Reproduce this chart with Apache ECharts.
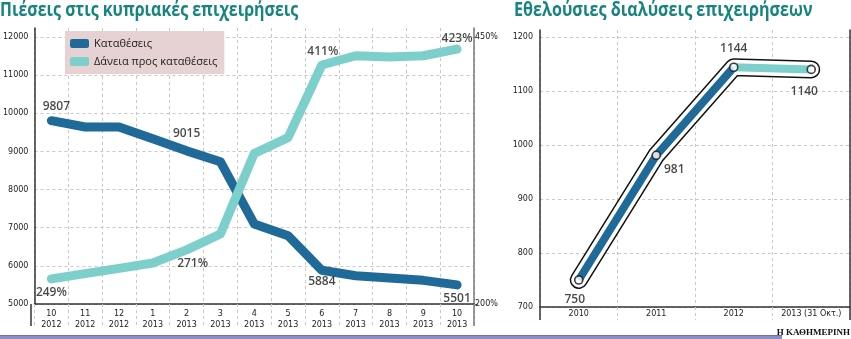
<!DOCTYPE html>
<html>
<head>
<meta charset="utf-8">
<script src="https://cdn.jsdelivr.net/npm/echarts@6/dist/echarts.min.js"></script>
<style>
  html, body { margin: 0; padding: 0; background: #fff; }
  #chart { width: 851px; height: 339px; }
</style>
</head>
<body>
<div id="chart"></div>
<script>
// Left panel: monthly deposits and loan-to-deposit ratio
const months = ['10\n2012', '11\n2012', '12\n2012', '1\n2013', '2\n2013', '3\n2013', '4\n2013',
                '5\n2013', '6\n2013', '7\n2013', '8\n2013', '9\n2013', '10\n2013'];
const deposits = [9807, 9640, 9640, 9330, 9015, 8730, 7100, 6790, 5884, 5740, 5680, 5620, 5501];
const loanRatio = [249, 253, 257, 261, 271, 283, 344, 356, 411, 418, 417, 418, 423];
const depositLabelIdx = [0, 4, 8, 12];
const ratioLabelIdx = [0, 4, 8, 12];
const ratioAxisTicks = [200, 450];

// Right panel: voluntary company dissolutions per year
const years = ['2010', '2011', '2012', '2013 (31 Οκτ.)'];
const dissolutions = [750, 981, 1144, 1140];

const DARK = '#1f6a98';
const TEAL = '#7ccfcb';
const TITLE = '#17857f';
const AXIS = '#333';
const GRID = '#c8c8c8';
const TICKFONT = { fontFamily: 'DejaVu Sans', fontSize: 8, color: '#222' };
const VALFONT = { fontFamily: 'Open Sans', fontSize: 12, fontWeight: 600, color: '#1a1a1a' };
const TITLEFONT = 'bold 19px "Open Sans"';

// grid geometry (pixels)
const L = { left: 31, right: 474, top: 28, bottom: 304 };
const R = { left: 540, right: 850, top: 30, bottom: 307 };

// label offsets for value annotations
const depOffsets = { 0: [5, -14], 4: [0, -17], 8: [0, 11], 12: [0, 14] };
const ratioOffsets = { 0: [0, 14], 4: [6, 14], 8: [1, -13], 12: [0, -11] };
const dissOffsets = [[-4, 20], [18, 14], [0, -19], [-7, 22]];

const chart = echarts.init(document.getElementById('chart'), null, { renderer: 'canvas' });

const dashed = { color: GRID, type: [3, 3], width: 1 };
const plain = v => String(v);

const option = {
  animation: false,
  legend: {
    left: 65, top: 31, orient: 'vertical', itemGap: 7, itemWidth: 19, itemHeight: 9,
    padding: [7, 7, 7, 5], backgroundColor: '#e7d2d3',
    icon: 'roundRect',
    textStyle: { fontFamily: 'Open Sans', fontSize: 11, color: '#1a1a1a' },
    data: ['Καταθέσεις', 'Δάνεια προς καταθέσεις']
  },
  grid: [
    { left: L.left, top: L.top, width: L.right - L.left, height: L.bottom - L.top },
    { left: R.left, top: R.top, width: R.right - R.left, height: R.bottom - R.top }
  ],
  xAxis: [
    { type: 'category', gridIndex: 0, data: months, boundaryGap: true,
      axisLine: { lineStyle: { color: AXIS, width: 1.5 } },
      axisTick: { show: true, length: 22, lineStyle: dashed },
      splitLine: { show: true, lineStyle: dashed },
      axisLabel: Object.assign({ margin: 4, lineHeight: 11, interval: 0 }, TICKFONT) },
    { type: 'category', gridIndex: 1, data: years, boundaryGap: true,
      axisLine: { lineStyle: { color: AXIS, width: 1.5 } },
      axisTick: { show: true, length: 13, lineStyle: dashed },
      splitLine: { show: true, lineStyle: dashed },
      axisLabel: Object.assign({ margin: 3, interval: 0 }, TICKFONT) }
  ],
  yAxis: [
    { type: 'value', gridIndex: 0, min: 5000, max: 12236, interval: 1000,
      axisLine: { show: true, lineStyle: { color: AXIS, width: 1.5 } },
      axisTick: { show: false },
      splitLine: { show: true, showMaxLine: false, lineStyle: dashed },
      axisLabel: Object.assign({ margin: 6, showMaxLabel: false, formatter: plain }, TICKFONT) },
    // percentage scale drawn at the right edge
    { type: 'value', gridIndex: 0, position: 'right', min: 200, max: 458.4, interval: 250,
      axisLine: { show: true, lineStyle: { color: '#777', width: 1.5 } },
      axisTick: { show: true, inside: false, length: 4, lineStyle: { color: '#777' } },
      splitLine: { show: false },
      axisLabel: Object.assign({ margin: 1, showMaxLabel: false,
        formatter: v => ratioAxisTicks.includes(v) ? v + '%' : '' }, TICKFONT) },
    // scale used by the ratio curve
    { type: 'value', gridIndex: 0, position: 'right', min: 230, max: 439, show: false,
      splitLine: { show: false } },
    { type: 'value', gridIndex: 1, min: 700, max: 1213, interval: 100,
      axisLine: { show: true, lineStyle: { color: AXIS, width: 1.5 } },
      axisTick: { show: false },
      splitLine: { show: true, showMaxLine: false, lineStyle: dashed },
      axisLabel: Object.assign({ margin: 7, showMaxLabel: false, formatter: plain }, TICKFONT) },
    { type: 'value', gridIndex: 1, position: 'right', min: 700, max: 1213,
      axisLine: { show: true, lineStyle: { color: AXIS, width: 1.5 } },
      axisTick: { show: false }, axisLabel: { show: false }, splitLine: { show: false } }
  ],
  series: [
    { name: 'Καταθέσεις', type: 'line', xAxisIndex: 0, yAxisIndex: 0, data: deposits,
      symbol: 'none', color: DARK, z: 3,
      lineStyle: { width: 9, color: DARK, cap: 'round', join: 'round' } },
    { name: 'Δάνεια προς καταθέσεις', type: 'line', xAxisIndex: 0, yAxisIndex: 2, data: loanRatio,
      symbol: 'none', color: TEAL, z: 4,
      lineStyle: { width: 9, color: TEAL, cap: 'round', join: 'round' } },
    { type: 'scatter', xAxisIndex: 0, yAxisIndex: 0, symbolSize: 0, z: 6, silent: true,
      data: depositLabelIdx.map(i => ({
        value: [i, deposits[i]],
        label: { show: true, position: 'inside', offset: depOffsets[i], formatter: String(deposits[i]) }
      })),
      label: VALFONT },
    { type: 'scatter', xAxisIndex: 0, yAxisIndex: 2, symbolSize: 0, z: 6, silent: true,
      data: ratioLabelIdx.map(i => ({
        value: [i, loanRatio[i]],
        label: { show: true, position: 'inside', offset: ratioOffsets[i], formatter: loanRatio[i] + '%' }
      })),
      label: VALFONT },

    // right panel: outlined band
    { type: 'line', xAxisIndex: 1, yAxisIndex: 3, data: dissolutions, symbol: 'none', z: 2,
      lineStyle: { width: 18, color: '#111', cap: 'round', join: 'round' } },
    { type: 'line', xAxisIndex: 1, yAxisIndex: 3, data: dissolutions, symbol: 'none', z: 3,
      lineStyle: { width: 15, color: '#fff', cap: 'round', join: 'round' } },
    { type: 'line', xAxisIndex: 1, yAxisIndex: 3,
      data: dissolutions.map((v, i) => i <= 2 ? v : null), symbol: 'none', z: 4,
      lineStyle: { width: 8, color: DARK, cap: 'butt', join: 'round' } },
    { type: 'line', xAxisIndex: 1, yAxisIndex: 3,
      data: dissolutions.map((v, i) => i >= 2 ? v : null), symbol: 'none', z: 4,
      lineStyle: { width: 8, color: TEAL, cap: 'butt', join: 'round' } },
    { type: 'scatter', xAxisIndex: 1, yAxisIndex: 3, z: 6, symbol: 'circle', symbolSize: 8,
      itemStyle: { color: '#fff', borderColor: '#111', borderWidth: 1.6 },
      data: dissolutions.map((v, i) => ({
        value: [i, v],
        label: { show: true, position: 'inside', offset: dissOffsets[i], formatter: String(v) }
      })),
      label: VALFONT }
  ],
  graphic: [
    // panel titles, set in a narrowed bold face
    { type: 'text', x: 0, y: 1, scaleX: 0.84,
      style: { text: 'Πιέσεις στις κυπριακές επιχειρήσεις', font: TITLEFONT, fill: TITLE } },
    { type: 'text', x: 514, y: 1, scaleX: 0.85,
      style: { text: 'Εθελούσιες διαλύσεις επιχειρήσεων', font: TITLEFONT, fill: TITLE } },
    // axis lines continue down through the tick-label band
    { type: 'line', shape: { x1: L.left, y1: L.bottom, x2: L.left, y2: L.bottom + 22 }, style: { stroke: AXIS, lineWidth: 1.5 }, z: 10 },
    { type: 'line', shape: { x1: L.right, y1: L.bottom, x2: L.right, y2: L.bottom + 22 }, style: { stroke: '#777', lineWidth: 1.5 }, z: 10 },
    { type: 'line', shape: { x1: R.left, y1: R.bottom, x2: R.left, y2: R.bottom + 13 }, style: { stroke: AXIS, lineWidth: 1.5 }, z: 10 },
    { type: 'line', shape: { x1: R.right, y1: R.bottom, x2: R.right, y2: R.bottom + 13 }, style: { stroke: AXIS, lineWidth: 1.5 }, z: 10 },
    // footer band and credit
    { type: 'rect', shape: { x: 0, y: 335, width: 782, height: 4 }, style: { fill: '#8c8ec4' }, z: 10 },
    { type: 'rect', shape: { x: 0, y: 335, width: 782, height: 1 }, style: { fill: '#6e70a8' }, z: 10 },
    { type: 'text', right: 1, top: 328,
      style: { text: 'Η ΚΑΘΗΜΕΡΙΝΗ', font: 'bold 9px "Liberation Serif"', fill: '#111' }, z: 10 }
  ]
};

chart.setOption(option);
</script>
</body>
</html>
